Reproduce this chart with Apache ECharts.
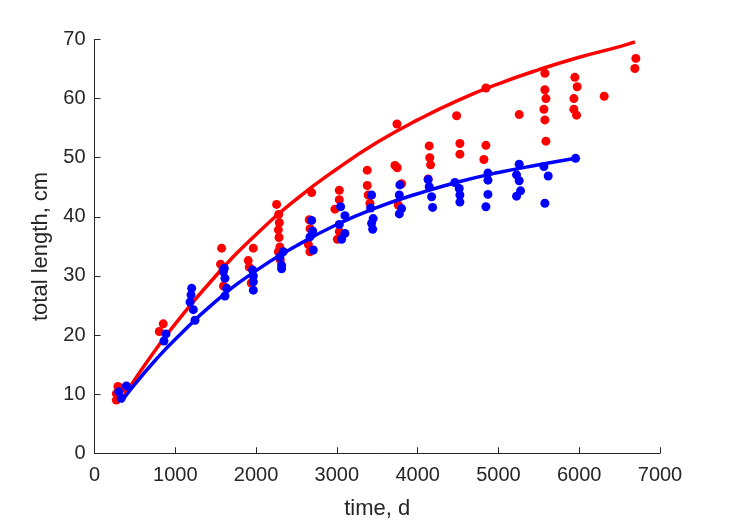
<!DOCTYPE html>
<html>
<head>
<meta charset="utf-8">
<script src="https://cdn.jsdelivr.net/npm/echarts@6/dist/echarts.min.js"></script>
<style>
html,body{margin:0;padding:0;background:#fff;}
#chart{width:729px;height:521px;}
</style>
</head>
<body>
<div id="chart"></div>
<script>
// Female (red) observations: [time d, total length cm]
const redPoints = [
  [270,10.1],[290,11.3],[270,9.0],[350,11.0],
  [851,21.9],[802,20.6],
  [1574,34.7],[1560,32.0],[1590,31.0],[1597,28.3],
  [1966,34.7],[1903,32.6],[1915,31.5],[1940,28.8],
  [2254,42.1],[2280,40.4],[2288,39.0],[2276,37.8],[2284,36.5],[2295,34.9],[2276,34.1],[2300,32.7],
  [2688,44.1],[2658,39.5],[2668,38.0],[2648,35.3],[2667,34.1],
  [3030,44.5],[3030,42.9],[2976,41.3],[3030,37.5],[3006,36.2],
  [3376,47.9],[3376,45.3],[3388,43.7],[3409,42.3],
  [3744,55.7],[3719,48.7],[3747,48.3],[3801,45.6],[3760,42.0],
  [4143,52.0],[4150,50.0],[4160,48.8],[4130,46.4],
  [4482,57.1],[4523,52.4],[4523,50.6],
  [4845,61.8],[4845,52.1],[4820,49.7],
  [5257,57.3],
  [5575,64.3],[5575,61.5],[5588,60.0],[5563,58.2],[5575,56.4],[5588,52.8],
  [5946,63.6],[5975,62.0],[5934,60.0],[5934,58.2],[5967,57.2],
  [6309,60.4],
  [6701,66.8],[6689,65.1]
];
// Male (blue) observations
const bluePoints = [
  [300,10.4],[395,11.4],[330,9.3],
  [885,20.2],[860,19.0],
  [1203,27.9],[1195,26.8],[1183,25.6],[1223,24.3],[1244,22.5],
  [1607,31.3],[1595,30.7],[1615,29.6],[1636,27.9],[1615,26.6],
  [1957,31.0],[1966,30.0],[1966,29.0],[1966,27.6],
  [2336,34.1],[2295,33.2],[2316,31.8],[2316,31.2],
  [2688,39.4],[2700,37.6],[2667,36.6],[2708,34.4],
  [3046,41.7],[3100,40.2],[3030,38.7],[3100,37.2],[3059,36.2],
  [3430,43.7],[3418,41.5],[3449,39.7],[3430,38.9],[3443,37.9],
  [3780,45.4],[3773,43.7],[3801,41.4],[3773,40.5],
  [4130,46.3],[4143,45.1],[4173,43.4],[4185,41.6],
  [4461,45.8],[4515,44.8],[4523,43.7],[4523,42.5],
  [4870,47.4],[4870,46.2],[4870,43.8],[4845,41.7],
  [5257,48.9],[5224,47.1],[5257,46.1],[5274,44.4],[5224,43.5],
  [5563,48.5],[5616,46.9],[5575,42.3],
  [5955,49.9]
];
// Fitted growth curves
const redCurve = [
  [330,9.0],[500,12.5],[750,17.4],[1000,21.9],[1500,30.0],[2000,37.0],[2500,43.0],
  [3000,48.1],[3500,52.6],[4000,56.4],[4500,59.7],[5000,62.5],[5500,64.9],
  [6000,67.0],[6500,68.8],[6690,69.6]
];
const blueCurve = [
  [330,8.7],[500,11.7],[750,15.7],[1000,19.3],[1500,25.7],[2000,30.9],[2500,35.1],
  [3000,38.7],[3500,41.6],[4000,43.9],[4500,45.9],[5000,47.5],[5500,48.8],[5955,49.9]
];
const xTicks = [0,1000,2000,3000,4000,5000,6000,7000];
const yTicks = [0,10,20,30,40,50,60,70];

const txt = '#262626';
const font = 'Liberation Sans, Arial, Helvetica, sans-serif';
const chart = echarts.init(document.getElementById('chart'), null, {renderer:'canvas'});
chart.setOption({
  animation:false,
  backgroundColor:'#ffffff',
  grid:{left:94.5,right:69,top:39.5,bottom:67.7,containLabel:false,outerBoundsMode:'none'},
  xAxis:{
    type:'value', min:xTicks[0], max:xTicks[xTicks.length-1], interval:1000,
    name:'time, d', nameLocation:'middle', nameGap:45,
    nameTextStyle:{color:txt,fontSize:22,fontFamily:font},
    axisLine:{show:true,lineStyle:{color:txt,width:1}},
    axisTick:{show:true,inside:true,length:6,lineStyle:{color:txt}},
    axisLabel:{color:txt,fontSize:20,fontFamily:font,margin:12,
      formatter:function(v){return String(v);}},
    splitLine:{show:false}
  },
  yAxis:{
    type:'value', min:yTicks[0], max:yTicks[yTicks.length-1], interval:10,
    name:'total length, cm', nameLocation:'middle', nameGap:38, nameRotate:90,
    nameTextStyle:{color:txt,fontSize:22,fontFamily:font},
    axisLine:{show:true,lineStyle:{color:txt,width:1}},
    axisTick:{show:true,inside:true,length:6,lineStyle:{color:txt}},
    axisLabel:{color:txt,fontSize:20,fontFamily:font,margin:9},
    splitLine:{show:false}
  },
  series:[
    {type:'scatter', data:redPoints, symbol:'circle', symbolSize:9,
     itemStyle:{color:'#ff0000',opacity:1}, z:2},
    {type:'line', data:redCurve, smooth:true, showSymbol:false, symbol:'none',
     lineStyle:{color:'#ff0000',width:3.5}, z:3},
    {type:'scatter', data:bluePoints, symbol:'circle', symbolSize:9,
     itemStyle:{color:'#0000ff',opacity:1}, z:4},
    {type:'line', data:blueCurve, smooth:true, showSymbol:false, symbol:'none',
     lineStyle:{color:'#0000ff',width:3.5}, z:5}
  ]
});
</script>
</body>
</html>
